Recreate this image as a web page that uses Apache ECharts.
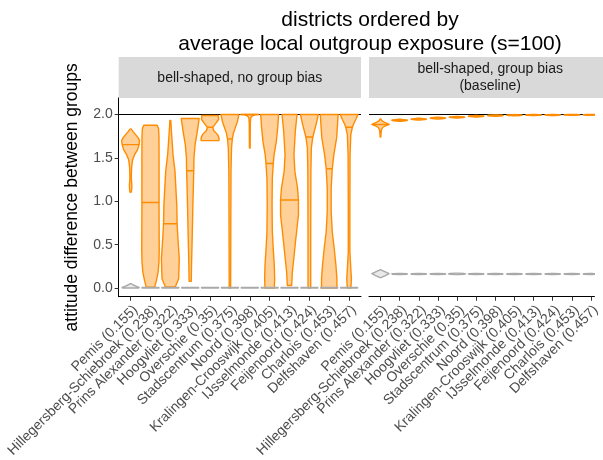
<!DOCTYPE html>
<html><head><meta charset="utf-8">
<script src="https://cdn.jsdelivr.net/npm/echarts@6/dist/echarts.min.js"></script>
<style>html,body{margin:0;padding:0;background:#fff}#c{width:603px;height:460px}</style>
</head><body><div id="c"></div>
<script>
const districts = ['Pemis (0.155)', 'Hillegersberg-Schiebroek (0.238)', 'Prins Alexander (0.322)', 'Hoogvliet (0.333)', 'Overschie (0.35)', 'Stadscentrum (0.375)', 'Noord (0.398)', 'Kralingen-Crooswijk (0.405)', 'IJsselmonde (0.413)', 'Feijenoord (0.424)', 'Charlois (0.453)', 'Delfshaven (0.457)'];
const panelLabels = ['bell-shaped, no group bias', 'bell-shaped, group bias\n(baseline)'];
const titleText = 'districts ordered by\naverage local outgroup exposure (s=100)';
const yAxisTitle = 'attitude difference between groups';
const yTicks = [0, 0.5, 1, 1.5, 2];
const refLine = 2.0;

// violin profiles: [attitude difference, relative half width (1 = widest)]
const noBiasOrange = [
  [[1.834,0.05],[1.80,0.3],[1.768,0.56],[1.73,0.85],[1.70,1.0],[1.653,0.95],[1.595,0.78],[1.537,0.45],[1.479,0.22],[1.40,0.12],[1.305,0.08],[1.24,0.09],[1.20,0.13],[1.158,0.13],[1.12,0.1],[1.104,0.05]],
  [[1.876,0.75],[1.84,0.9],[1.75,0.95],[1.5,0.96],[1.2,0.96],[0.9,0.96],[0.6,0.97],[0.45,0.98],[0.3,0.95],[0.18,0.85],[0.08,0.65],[0.01,0.47]],
  [[1.93,0.05],[1.807,0.12],[1.537,0.3],[1.344,0.52],[0.958,0.72],[0.741,0.76],[0.571,0.85],[0.34,1.0],[0.108,0.93],[0.012,0.55]],
  [[1.954,1.0],[1.807,0.8],[1.653,0.55],[1.498,0.42],[1.351,0.4],[0.958,0.3],[0.571,0.22],[0.263,0.15],[0.077,0.12]],
  [[1.988,0.93],[1.942,0.95],[1.892,0.6],[1.853,0.3],[1.815,0.4],[1.768,0.85],[1.73,1.0],[1.699,1.0]],
  [[2.0,1.0],[1.923,0.85],[1.846,0.6],[1.788,0.4],[1.718,0.27],[1.614,0.18],[1.344,0.12],[0.764,0.1],[0.0,0.08]],
  [[2.0,1.0],[1.995,0.6],[1.985,0.3],[1.975,0.2],[1.96,0.1],[1.90,0.06],[1.75,0.05],[1.614,0.04]],
  [[2.0,1.0],[1.846,0.9],[1.691,0.75],[1.537,0.5],[1.436,0.41],[1.266,0.3],[0.958,0.27],[0.649,0.3],[0.456,0.4],[0.263,0.52],[0.108,0.56],[0.0,0.52]],
  [[2.0,0.84],[1.807,0.65],[1.537,0.5],[1.344,0.6],[1.151,0.9],[1.015,1.0],[0.842,1.0],[0.571,0.71],[0.378,0.52],[0.185,0.32],[0.03,0.24]],
  [[2.0,1.0],[1.884,0.75],[1.741,0.39],[1.614,0.22],[1.344,0.17],[0.571,0.15],[0.0,0.15]],
  [[2.0,1.0],[1.73,0.83],[1.537,0.52],[1.375,0.34],[1.151,0.22],[0.88,0.22],[0.649,0.34],[0.456,0.56],[0.263,0.75],[0.108,0.86],[0.0,0.86]],
  [[2.0,1.0],[1.942,0.75],[1.884,0.48],[1.853,0.37],[1.768,0.19],[1.537,0.11],[0.958,0.09],[0.417,0.09],[0.224,0.19],[0.108,0.26],[0.03,0.22],[0.0,0.19]]
];
const noBiasOrangeMedian = [1.653, 0.985, 0.741, 1.351, 1.853, 1.718, 2.0, 1.436, 1.015, 1.741, 1.375, 1.853];
const flatGreyLeft = [[0.006,0.95],[0.0,0.95]];
const noBiasGrey = [
  [[0.05,0.05],[0.035,0.3],[0.018,0.65],[0.006,0.95],[0.0,0.9]],
  flatGreyLeft, flatGreyLeft, flatGreyLeft, flatGreyLeft, flatGreyLeft, flatGreyLeft,
  flatGreyLeft, flatGreyLeft, flatGreyLeft, flatGreyLeft, flatGreyLeft
];
const biasOrange = [
  [[1.95,0.03],[1.93,0.15],[1.905,0.55],[1.885,1.0],[1.87,0.6],[1.85,0.25],[1.82,0.1],[1.78,0.06],[1.74,0.04]],
  [[1.945,0.1],[1.938,0.7],[1.933,0.9],[1.928,0.7],[1.921,0.1]],
  [[1.957,0.1],[1.95,0.7],[1.946,0.9],[1.942,0.7],[1.935,0.1]],
  [[1.968,0.1],[1.962,0.7],[1.958,0.9],[1.954,0.7],[1.948,0.1]],
  [[1.978,0.1],[1.973,0.7],[1.969,0.9],[1.965,0.7],[1.96,0.1]],
  [[1.988,0.1],[1.984,0.7],[1.98,0.9],[1.976,0.7],[1.971,0.1]],
  [[1.995,0.1],[1.991,0.7],[1.988,0.9],[1.985,0.7],[1.98,0.1]],
  [[1.999,0.1],[1.995,0.7],[1.992,0.9],[1.989,0.7],[1.985,0.1]],
  [[2.0,0.1],[1.997,0.7],[1.994,0.9],[1.991,0.7],[1.987,0.1]],
  [[2.0,0.1],[1.998,0.7],[1.995,0.9],[1.992,0.7],[1.989,0.1]],
  [[2.0,0.1],[1.999,0.7],[1.996,0.9],[1.993,0.7],[1.99,0.1]],
  [[2.0,0.1],[1.999,0.7],[1.997,0.9],[1.994,0.7],[1.991,0.1]]
];
const biasOrangeMedian = [1.885, 1.933, 1.946, 1.958, 1.969, 1.98, 1.988, 1.992, 1.994, 1.995, 1.996, 1.997];
const flatGreyRight = [[0.168,0.1],[0.165,0.85],[0.162,0.9],[0.159,0.85],[0.156,0.1]];
const biasGrey = [
  [[0.21,0.05],[0.19,0.5],[0.165,1.0],[0.14,0.5],[0.12,0.05]],
  flatGreyRight, flatGreyRight, flatGreyRight,
  [[0.172,0.1],[0.167,0.8],[0.163,1.0],[0.159,0.8],[0.154,0.1]],
  flatGreyRight, flatGreyRight, flatGreyRight, flatGreyRight, flatGreyRight, flatGreyRight, flatGreyRight
];

const HALF = 0.45;
const LW = 1.4;
const ORANGE = '#FF8C00', ORANGE_FILL = 'rgba(255,140,0,0.4)';
const GREY = '#A9A9A9', GREY_FILL = 'rgba(169,169,169,0.25)';
const FONT = 'Liberation Sans, Arial, sans-serif';

function interp(prof, v) {
  for (let k = 0; k < prof.length - 1; k++) {
    const a = prof[k], b = prof[k + 1];
    if (v <= a[0] && v >= b[0]) {
      const t = a[0] === b[0] ? 0 : (a[0] - v) / (a[0] - b[0]);
      return a[1] + t * (b[1] - a[1]);
    }
  }
  return v > prof[0][0] ? prof[0][1] : prof[prof.length - 1][1];
}

function violinRender(profiles, medians, stroke, fill) {
  return function (params, api) {
    const i = api.value(0);
    const prof = profiles[i];
    const right = prof.map(p => api.coord([i + p[1] * HALF, p[0]]));
    const left = prof.slice().reverse().map(p => api.coord([i - p[1] * HALF, p[0]]));
    const children = [{
      type: 'polygon', shape: { points: right.concat(left) },
      style: { fill: fill, stroke: stroke, lineWidth: LW, lineJoin: 'round' }
    }];
    if (medians) {
      const m = medians[i]; const w = interp(prof, m);
      const a = api.coord([i - w * HALF, m]), b = api.coord([i + w * HALF, m]);
      children.push({ type: 'line', shape: { x1: a[0], y1: a[1], x2: b[0], y2: b[1] }, style: { stroke: stroke, lineWidth: LW } });
    }
    return { type: 'group', children: children };
  };
}

const idx = districts.map((d, i) => i);
const evenIdx = idx.filter(i => i % 2 === 0);
const oddIdx = idx.filter(i => i % 2 === 1);
const gridTop = 98, gridH = 199;
// left panel shows the full range; right panel is cut by the picture's right edge
const gridSpecs = [{ left: 118.7, width: 242.3, max: 11.6 }, { left: 369, width: 234, max: 11.18 }];

function labelStyle(values) {
  return {
    show: true, customValues: values, formatter: v => districts[Math.round(v)], rotate: 45,
    fontSize: 14, color: '#4D4D4D', fontFamily: FONT, margin: 6,
    align: 'right', verticalAlign: 'top', showMinLabel: true, showMaxLabel: true, hideOverlap: false
  };
}
function xAxisFor(g) {
  return {
    type: 'value', gridIndex: g, min: -0.6, max: gridSpecs[g].max,
    splitLine: { show: false },
    axisLine: { show: true, onZero: false, lineStyle: { color: '#000', width: 1 } },
    axisTick: { show: true, customValues: idx, length: 4, lineStyle: { color: '#333', width: 1 } },
    axisLabel: g === 0 ? labelStyle(idx) : { show: false }
  };
}
function xLabelAxis(g, values) {
  return {
    type: 'value', gridIndex: g, position: 'bottom', offset: 0, min: -0.6, max: gridSpecs[g].max,
    splitLine: { show: false }, axisLine: { show: false, onZero: false }, axisTick: { show: false },
    axisLabel: labelStyle(values)
  };
}
function yAxisFor(g) {
  const base = { type: 'value', gridIndex: g, min: -0.1, max: 2.19, splitLine: { show: false } };
  if (g === 1) return Object.assign(base, { show: false });
  return Object.assign(base, {
    name: yAxisTitle, nameLocation: 'middle', nameRotate: 90, nameGap: 38,
    nameTextStyle: { fontSize: 17.5, color: '#000', fontFamily: FONT },
    axisLine: { show: true, onZero: false, lineStyle: { color: '#000', width: 1 } },
    axisTick: { show: true, customValues: yTicks, length: 4, lineStyle: { color: '#333', width: 1 } },
    axisLabel: { customValues: yTicks, formatter: v => v.toFixed(1), fontSize: 14, color: '#4D4D4D', fontFamily: FONT, margin: 6, showMinLabel: true, showMaxLabel: true }
  });
}

function refSeries(g) {
  return {
    type: 'line', xAxisIndex: g, yAxisIndex: g, data: [[-0.6, refLine], [gridSpecs[g].max, refLine]],
    symbol: 'none', lineStyle: { color: '#000', width: 1.2 }, silent: true, z: 1, animation: false
  };
}
function violinSeries(g, profiles, medians, stroke, fill, z) {
  return {
    type: 'custom', xAxisIndex: g, yAxisIndex: g, clip: true, z: z,
    data: idx.map(i => [i, medians ? medians[i] : 0]),
    encode: { x: 0, y: 1 },
    renderItem: violinRender(profiles, medians, stroke, fill), animation: false
  };
}

const graphics = [];
const stripW = 242.3;
gridSpecs.forEach((s, g) => {
  graphics.push({ type: 'rect', shape: { x: s.left, y: 57, width: stripW, height: 41 }, style: { fill: '#D9D9D9' }, silent: true });
  graphics.push({ type: 'text', x: s.left + stripW / 2, y: 78, style: { text: panelLabels[g], align: 'center', verticalAlign: 'middle', fontSize: 14, lineHeight: 17, fill: '#1A1A1A', fontFamily: FONT }, silent: true });
});

const chart = echarts.init(document.getElementById('c'), null, { renderer: 'canvas' });
chart.setOption({
  backgroundColor: '#fff',
  animation: false,
  title: {
    text: titleText, left: 365, top: 3, textAlign: 'center',
    textStyle: { fontSize: 21, fontWeight: 'normal', color: '#000', lineHeight: 24, fontFamily: FONT }
  },
  grid: gridSpecs.map(s => ({ left: s.left, top: gridTop, width: s.width, height: gridH, containLabel: false })),
  xAxis: [xAxisFor(0), xAxisFor(1), xLabelAxis(1, evenIdx), xLabelAxis(1, oddIdx)],
  yAxis: [yAxisFor(0), yAxisFor(1)],
  graphic: graphics,
  series: [
    refSeries(0), refSeries(1),
    violinSeries(0, noBiasOrange, noBiasOrangeMedian, ORANGE, ORANGE_FILL, 2),
    violinSeries(0, noBiasGrey, null, GREY, GREY_FILL, 3),
    violinSeries(1, biasOrange, biasOrangeMedian, ORANGE, ORANGE_FILL, 2),
    violinSeries(1, biasGrey, null, GREY, GREY_FILL, 3)
  ]
});
</script></body></html>
